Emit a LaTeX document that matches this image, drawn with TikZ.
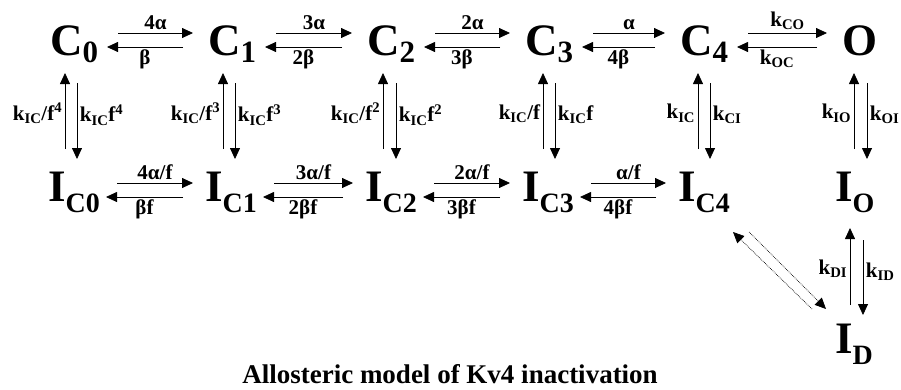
\documentclass[tikz,border=0pt]{standalone}
\usepackage{fontspec}
\setmainfont{Liberation Serif}
\usetikzlibrary{arrows.meta,calc}

\newcommand{\Cst}[1]{C\raisebox{-7pt}{\fontsize{31}{31}\selectfont #1}}
\newcommand{\Ist}[1]{I\raisebox{-11pt}{\fontsize{28}{28}\selectfont #1}}

\begin{document}
\begin{tikzpicture}[x=1pt,y=-1pt,
  state/.style={font=\fontsize{45}{50}\selectfont\bfseries, inner sep=0pt, anchor=base west},
  rate/.style={font=\fontsize{21}{23}\selectfont\bfseries, inner sep=2.5pt},
  fwd/.style={-{Triangle[length=11pt,width=10pt]}, line width=0.8pt},
  dfwd/.style={fwd, line width=0.7pt, densely dotted}]
  \useasboundingbox (0,0) rectangle (901,389);
  % closed and open states
  \node[state] (C0) at (50,55) {\Cst{0}};
  \node[state] (C1) at (208,55) {\Cst{1}};
  \node[state] (C2) at (367,55) {\Cst{2}};
  \node[state] (C3) at (525,55) {\Cst{3}};
  \node[state] (C4) at (680,55) {\Cst{4}};
  \node[state] (O) at (842,55) {O};
  % inactivated states
  \node[state] (IC0) at (48,201) {\Ist{C0}};
  \node[state] (IC1) at (205,201) {\Ist{C1}};
  \node[state] (IC2) at (365,201) {\Ist{C2}};
  \node[state] (IC3) at (522,201) {\Ist{C3}};
  \node[state] (IC4) at (678,201) {\Ist{C4}};
  \node[state] (IO) at (835,201) {\Ist{O}};
  \node[state] (ID) at (835,353) {\Ist{D}};
  \node[font=\fontsize{27}{30}\selectfont\bfseries, anchor=base, inner sep=0pt] (title) at (450,383) {Allosteric model of Kv4 inactivation};

  % horizontal transitions
  \foreach \a/\b/\up/\dn in {C0/C1/4α/β, C1/C2/3α/2β, C2/C3/2α/3β, C3/C4/α/4β,
      C4/O/{k\textsubscript{CO}}/{k\textsubscript{OC}}} {
    \draw[fwd] ([shift={(68,-22)}]\a.base west) -- node[above,rate] {\up} ([shift={(-15,-22)}]\b.base west);
    \draw[fwd] ([shift={(-25,-8)}]\b.base west) -- node[below,rate] {\dn} ([shift={(57,-8)}]\a.base west);
  }
  \foreach \a/\b/\up/\dn in {IC0/IC1/{4α/f}/βf, IC1/IC2/{3α/f}/2βf, IC2/IC3/{2α/f}/3βf, IC3/IC4/{α/f}/4βf} {
    \draw[fwd] ([shift={(69,-18)}]\a.base west) -- node[above,rate] {\up} ([shift={(-12,-18)}]\b.base west);
    \draw[fwd] ([shift={(-22,-4)}]\b.base west) -- node[below,rate] {\dn} ([shift={(58,-4)}]\a.base west);
  }

  % vertical transitions
  \draw[fwd] ($(C0.base west |- IC0.base)+(15,-52)$) -- node[pos=0.47,left,rate] {k\textsubscript{IC}/f\textsuperscript{4}} ($(C0.base west)+(15,18)$);
  \draw[fwd] ($(C0.base west)+(27,28)$) -- node[pos=0.42,right,rate] {k\textsubscript{IC}f\textsuperscript{4}} ($(C0.base west |- IC0.base)+(27,-42)$);
  \draw[fwd] ($(C1.base west |- IC1.base)+(15,-52)$) -- node[pos=0.47,left,rate] {k\textsubscript{IC}/f\textsuperscript{3}} ($(C1.base west)+(15,18)$);
  \draw[fwd] ($(C1.base west)+(27,28)$) -- node[pos=0.42,right,rate] {k\textsubscript{IC}f\textsuperscript{3}} ($(C1.base west |- IC1.base)+(27,-42)$);
  \draw[fwd] ($(C2.base west |- IC2.base)+(16,-52)$) -- node[pos=0.47,left,rate] {k\textsubscript{IC}/f\textsuperscript{2}} ($(C2.base west)+(16,18)$);
  \draw[fwd] ($(C2.base west)+(29,28)$) -- node[pos=0.42,right,rate] {k\textsubscript{IC}f\textsuperscript{2}} ($(C2.base west |- IC2.base)+(29,-42)$);
  \draw[fwd] ($(C3.base west |- IC3.base)+(18,-52)$) -- node[pos=0.47,left,rate] {k\textsubscript{IC}/f} ($(C3.base west)+(18,18)$);
  \draw[fwd] ($(C3.base west)+(30,28)$) -- node[pos=0.42,right,rate] {k\textsubscript{IC}f} ($(C3.base west |- IC3.base)+(30,-42)$);
  \draw[fwd] ($(C4.base west |- IC4.base)+(18,-52)$) -- node[pos=0.47,left,rate] {k\textsubscript{IC}} ($(C4.base west)+(18,18)$);
  \draw[fwd] ($(C4.base west)+(30,28)$) -- node[pos=0.42,right,rate] {k\textsubscript{CI}} ($(C4.base west |- IC4.base)+(30,-42)$);
  \draw[fwd] ($(O.base west |- IO.base)+(12,-52)$) -- node[pos=0.47,left,rate] {k\textsubscript{IO}} ($(O.base west)+(12,18)$);
  \draw[fwd] ($(O.base west)+(25,28)$) -- node[pos=0.42,right,rate] {k\textsubscript{OI}} ($(O.base west |- IO.base)+(25,-42)$);
  \draw[fwd] ($(ID.base west)+(15,-48)$) -- node[pos=0.47,left,rate] {k\textsubscript{DI}} ($(IO.base west)+(15,27)$);
  \draw[fwd] ($(IO.base west)+(28,39)$) -- node[pos=0.42,right,rate] {k\textsubscript{ID}} ($(ID.base west)+(28,-38)$);

  % direct path I_C4 <-> I_D
  \draw[dfwd] ($(ID.base west)+(-23,-44)$) -- ($(IC4.base west)+(55,31)$);
  \draw[dfwd] ($(IC4.base west)+(71,31)$) -- ($(ID.base west)+(-9,-44)$);
\end{tikzpicture}
\end{document}
